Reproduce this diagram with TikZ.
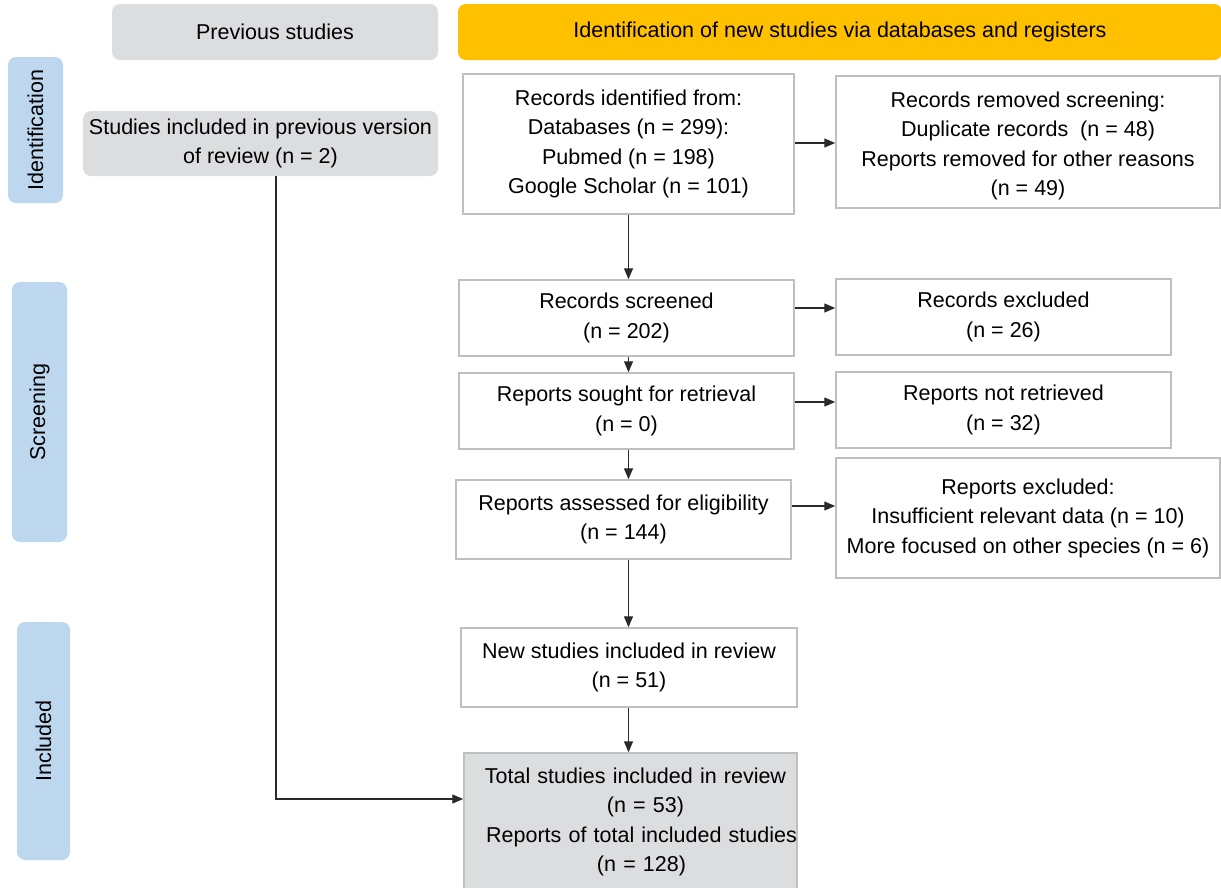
\documentclass[tikz,border=0pt]{standalone}
\usepackage{fontspec}
\setmainfont{Liberation Sans}
\usetikzlibrary{arrows.meta}
\definecolor{boxline}{HTML}{BFBFBF}
\definecolor{grayfill}{HTML}{DCDDDF}
\definecolor{bluefill}{HTML}{BDD7EE}
\definecolor{yellowfill}{HTML}{FFC000}
\definecolor{arrowcol}{HTML}{2A2A2A}
\begin{document}
\begin{tikzpicture}[x=1pt,y=-1pt,
  font=\fontsize{21.5}{29.5}\selectfont,
  box/.style={draw=boxline, line width=1.5pt, fill=white, align=center, inner sep=0pt, text=black},
  graybox/.style={fill=grayfill, rounded corners=8pt, align=center, inner sep=0pt, text=black},
  sidebar/.style={fill=bluefill, rounded corners=8pt, inner sep=0pt, rotate=90, text=black},
  arr/.style={draw=arrowcol, line width=1.3pt, -{Triangle[length=11pt,width=9pt]}}]
\useasboundingbox (0,0) rectangle (1221,887);
% headers
\node[graybox, minimum width=326pt, minimum height=56pt] (prevhead) at (275,32) {Previous studies};
\node[graybox, fill=yellowfill, minimum width=764pt, minimum height=56pt] (idhead) at (840,32) {Identification of new studies via databases and registers};
% side bars
\node[sidebar, minimum width=146pt, minimum height=55pt] (idbar) at (35.5,130) {Identification};
\node[sidebar, minimum width=260pt, minimum height=55pt] (scbar) at (39.5,412) {Screening};
\node[sidebar, minimum width=238pt, minimum height=53pt] (inbar) at (43.5,741) {Included};
% previous studies box
\node[graybox, minimum width=355pt, minimum height=65pt] (prevst) at (260.5,143.5) {Studies included in previous version\\of review (n = 2)};
% main boxes
\node[box, minimum width=331pt, minimum height=140pt] (rid) at (628.5,144) {Records identified from:\\Databases (n = 299):\\Pubmed (n = 198)\\Google Scholar (n = 101)};
\node[box, minimum width=384pt, minimum height=132pt] (rrem) at (1028,142) {};
\node[align=center, inner sep=0pt] (rremtext) at (1028,146) {Records removed screening:\\Duplicate records\ \ (n = 48)\\Reports removed for other reasons\\(n = 49)};
\node[box, minimum width=335pt, minimum height=76pt] (rscr) at (626.5,318) {Records screened\\(n = 202)};
\node[box, minimum width=335pt, minimum height=76pt] (rexc) at (1003.5,317) {Records excluded\\(n = 26)};
\node[box, minimum width=335pt, minimum height=76pt] (rsought) at (626.5,411) {Reports sought for retrieval\\(n = 0)};
\node[box, minimum width=335pt, minimum height=76pt] (rnot) at (1003.5,410) {Reports not retrieved\\(n = 32)};
\node[box, minimum width=335pt, minimum height=79pt] (rass) at (623.5,519.5) {Reports assessed for eligibility\\(n = 144)};
\node[box, minimum width=384pt, minimum height=120pt] (rexc2) at (1028,518) {Reports excluded:\\Insufficient relevant data (n = 10)\\More focused on other species (n = 6)};
\node[box, minimum width=336pt, minimum height=79pt] (newst) at (629,667.5) {New studies included in review\\(n = 51)};
\node[box, fill=grayfill, minimum width=333pt, minimum height=138pt, text width=333pt] (total) at (630.5,822) {\hspace*{10pt}Total studies included in review\\\hspace*{30pt}(n = 53)\\\hspace*{22pt}Reports of total included studies\\\hspace*{22pt}(n = 128)};
% helper coordinates
\coordinate (lx) at (276,0);
\coordinate (ty) at (0,799);
\coordinate (h1) at (0,143);
\coordinate (h2) at (0,308);
\coordinate (h3) at (0,402);
\coordinate (h4) at (0,506);
% connectors
\draw[arr] (rid.east |- h1) -- (rrem.west |- h1);
\draw[arr] (rscr.east |- h2) -- (rexc.west |- h2);
\draw[arr] (rsought.east |- h3) -- (rnot.west |- h3);
\draw[arr] (rass.east |- h4) -- (rexc2.west |- h4);
\draw[arr] (rid.south) -- (rscr.north -| rid.south);
\draw[arr] (rscr.south -| rid.south) -- (rsought.north -| rid.south);
\draw[arr] (rsought.south -| rid.south) -- (rass.north -| rid.south);
\draw[arr] (rass.south -| rid.south) -- (newst.north -| rid.south);
\draw[arr] (newst.south -| rid.south) -- (total.north -| rid.south);
\draw[arr] (prevst.south -| lx) |- (total.west |- ty);
\end{tikzpicture}
\end{document}
